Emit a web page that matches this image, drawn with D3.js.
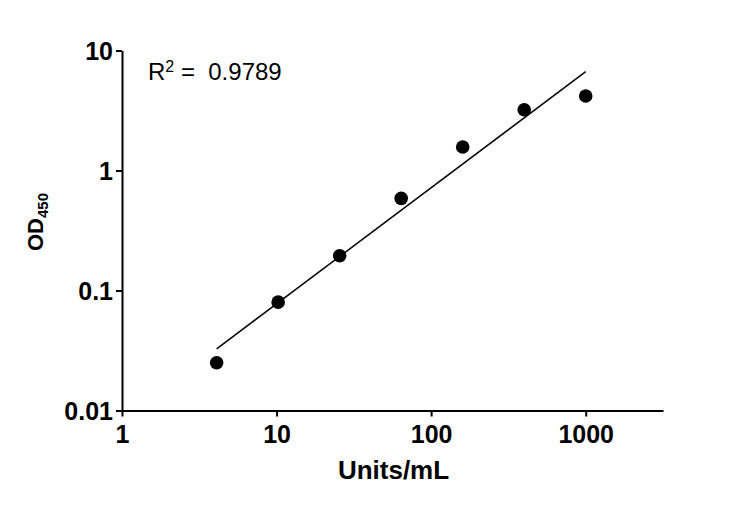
<!DOCTYPE html>
<html>
<head>
<meta charset="utf-8">
<script src="https://cdn.jsdelivr.net/npm/d3@7"></script>
<style>
  body { margin: 0; background: #fff; }
  text { font-family: "Liberation Sans", Arial, sans-serif; fill: #000; }
</style>
</head>
<body>
<div id="chart-area"></div>
<script>
// standard curve, 2.5-fold dilutions
var units = [4.096, 10.24, 25.6, 64, 160, 400, 1000];
var od450 = [0.025, 0.080, 0.195, 0.586, 1.57, 3.21, 4.18];

var xTicks = [1, 10, 100, 1000];
var xTickLabels = ["1", "10", "100", "1000"];
var yTicks = [0.01, 0.1, 1, 10];
var yTickLabels = ["0.01", "0.1", "1", "10"];

var width = 750, height = 508;

var svg = d3.select("#chart-area")
    .append("svg")
        .attr("width", width)
        .attr("height", height);

var x_scale = d3.scaleLog()
    .domain([1, 3162])
    .range([122, 663]);

var y_scale = d3.scaleLog()
    .domain([0.01, 10])
    .range([410.5, 50.5]);

// X-Axis
var xAxisCall = d3.axisBottom(x_scale)
    .tickValues(xTicks)
    .tickFormat(function(d, i){ return xTickLabels[i]; })
    .tickSizeInner(6)
    .tickSizeOuter(0)
    .tickPadding(9);
var xAxis = svg.append("g")
    .attr("class", "x-axis")
    .attr("transform", "translate(0, " + y_scale(0.01) + ")")
    .call(xAxisCall);

// Y-Axis
var yAxisCall = d3.axisLeft(y_scale)
    .tickValues(yTicks)
    .tickFormat(function(d, i){ return yTickLabels[i]; })
    .tickSizeInner(6)
    .tickSizeOuter(0)
    .tickPadding(3);
var yAxis = svg.append("g")
    .attr("class", "y-axis")
    .attr("transform", "translate(" + x_scale(1) + ", 0)")
    .call(yAxisCall);

svg.selectAll(".x-axis path, .x-axis line, .y-axis path, .y-axis line")
    .attr("stroke", "#000")
    .attr("stroke-width", 2);
svg.selectAll(".x-axis text, .y-axis text")
    .attr("font-size", "25px")
    .attr("font-weight", "bold")
    .attr("font-family", "Liberation Sans, Arial, sans-serif")
    .attr("fill", "#000");
yAxis.selectAll("text").attr("dy", "0.34em");

// log-log linear regression
var lx = units.map(function(d){ return Math.log10(d); });
var ly = od450.map(function(d){ return Math.log10(d); });
var mx = d3.mean(lx), my = d3.mean(ly);
var sxy = d3.sum(lx, function(d, i){ return (d - mx) * (ly[i] - my); });
var sxx = d3.sum(lx, function(d){ return (d - mx) * (d - mx); });
var slope = sxy / sxx, icpt = my - slope * mx;
var fitX = [d3.min(units), d3.max(units)];

var line = d3.line()
    .x(function(d){ return x_scale(d); })
    .y(function(d){ return y_scale(Math.pow(10, icpt + slope * Math.log10(d))); });

svg.append("path")
    .datum(fitX)
    .attr("d", line)
    .attr("fill", "none")
    .attr("stroke", "#000")
    .attr("stroke-width", 1.5);

svg.selectAll("circle")
    .data(units)
    .enter()
    .append("circle")
        .attr("cx", function(d){ return x_scale(d); })
        .attr("cy", function(d, i){ return y_scale(od450[i]); })
        .attr("r", 6.8)
        .attr("fill", "#000");

// R squared label
var r2 = svg.append("text")
    .attr("x", 148)
    .attr("y", 80)
    .attr("font-size", "24px")
    .attr("xml:space", "preserve");
r2.append("tspan").text("R");
r2.append("tspan")
    .attr("font-size", "16px")
    .attr("dy", -8.5)
    .text("2");
r2.append("tspan")
    .attr("dy", 8.5)
    .text(" =  0.9789");

// X Label
svg.append("text")
    .attr("class", "x-axis-label")
    .attr("x", 393.5)
    .attr("y", 479)
    .attr("font-size", "26px")
    .attr("font-weight", "bold")
    .attr("text-anchor", "middle")
    .text("Units/mL");

// Y Label
var yLabel = svg.append("text")
    .attr("class", "y-axis-label")
    .attr("transform", "translate(42.5, 222) rotate(-90)")
    .attr("font-size", "22px")
    .attr("font-weight", "bold")
    .attr("text-anchor", "middle");
yLabel.append("tspan").text("OD");
yLabel.append("tspan")
    .attr("font-size", "15px")
    .attr("dy", 5)
    .text("450");
</script>
</body>
</html>
